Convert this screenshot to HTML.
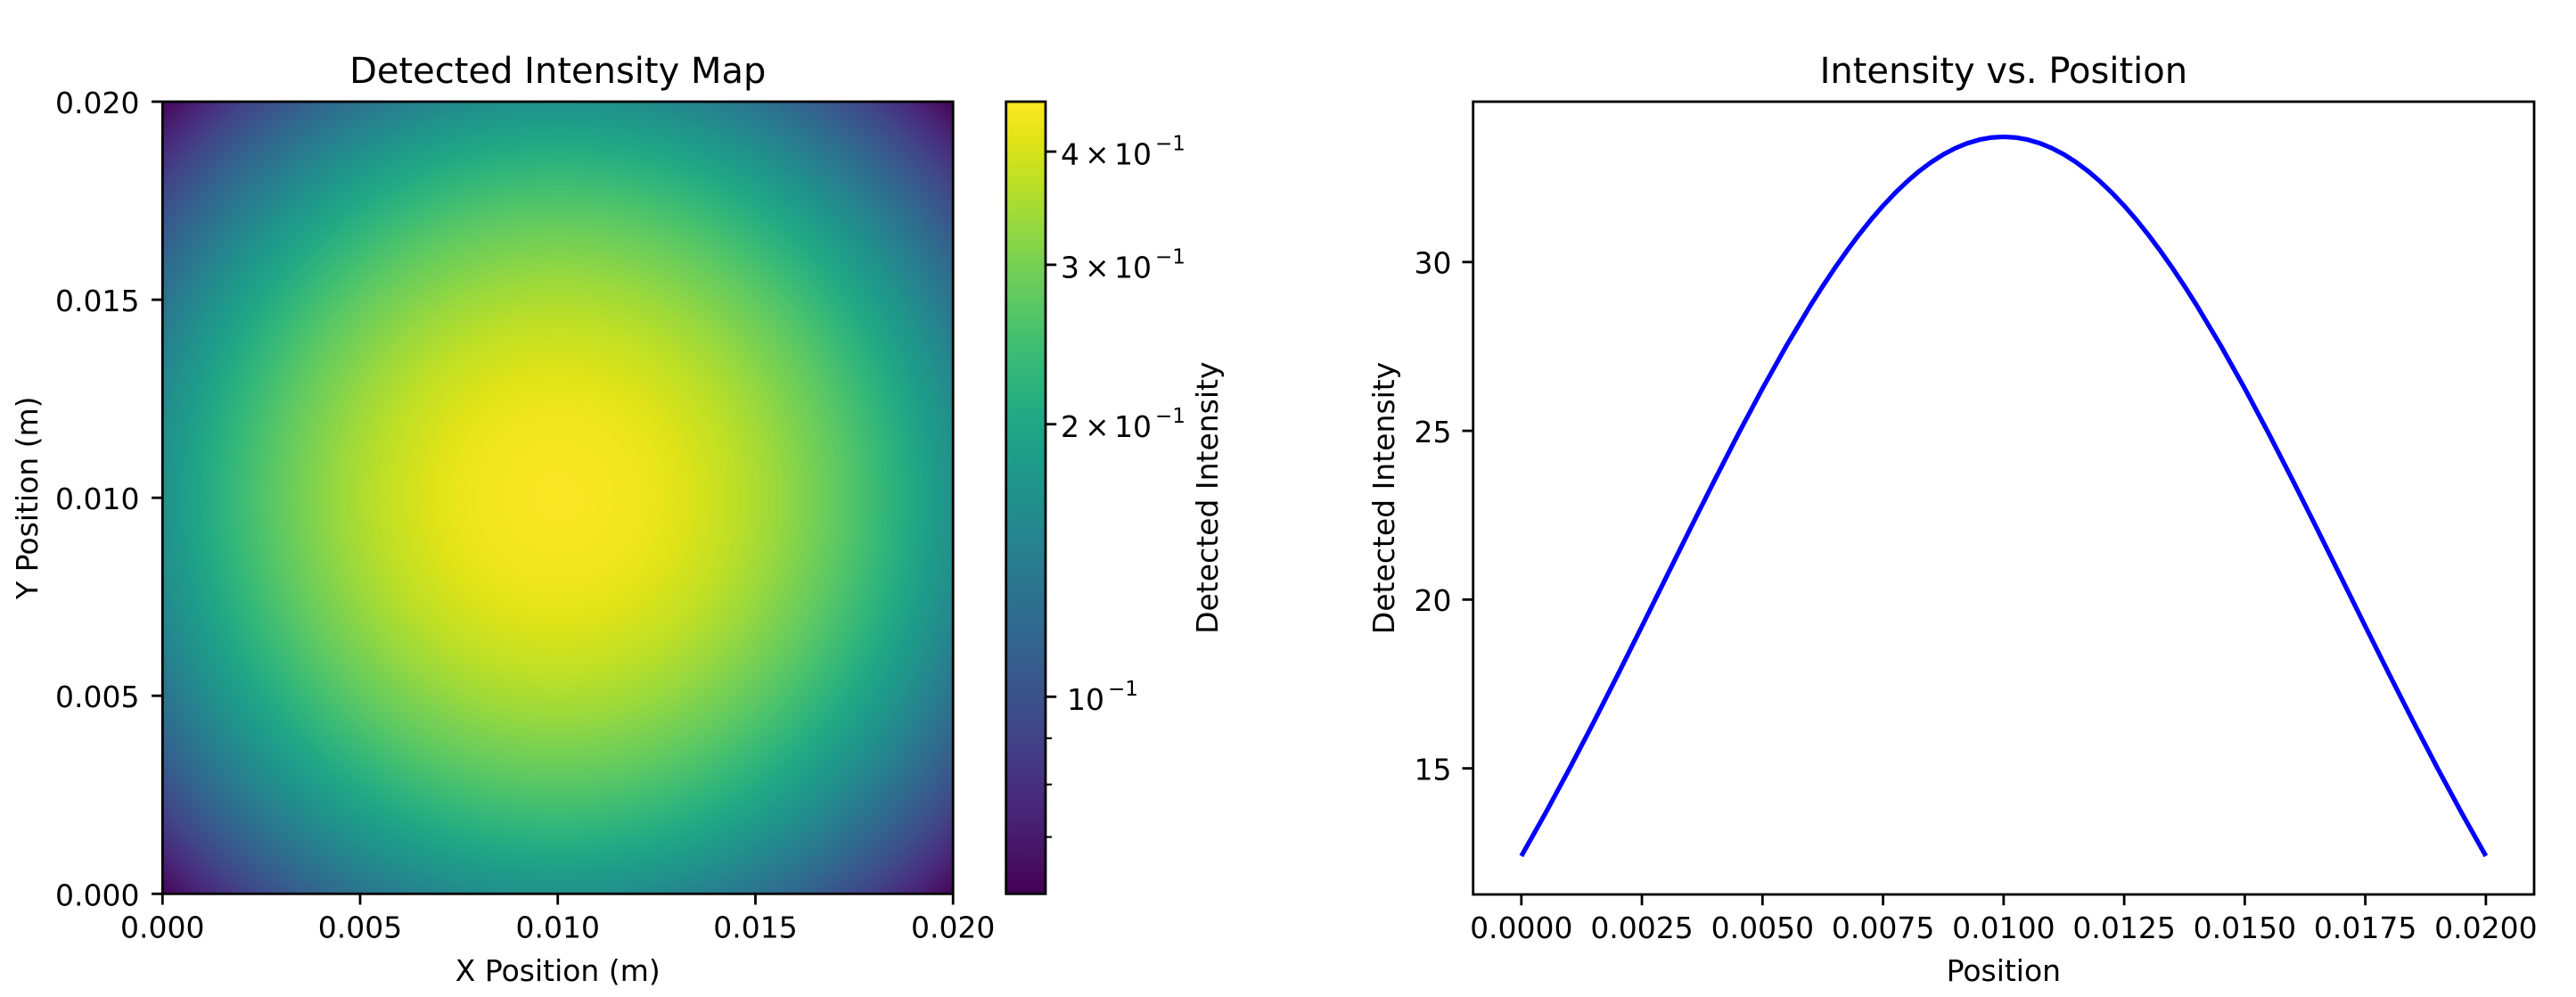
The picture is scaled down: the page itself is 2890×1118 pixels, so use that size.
<!DOCTYPE html>
<html>
<head>
<meta charset="utf-8">
<style>
  html, body { margin: 0; padding: 0; background: #ffffff; }
  svg { display: block; }
  text { font-family: "DejaVu Sans", "Liberation Sans", sans-serif; fill: #000; }
</style>
</head>
<body>
<svg width="2890" height="1118" viewBox="0 0 2890 1118" xmlns="http://www.w3.org/2000/svg">
  <defs>
    <radialGradient id="heat" gradientUnits="userSpaceOnUse" cx="625.75" cy="558.15" r="627.6">
      <stop offset="0" stop-color="#fde725"/>
      <stop offset="0.1587" stop-color="#eee51e"/>
      <stop offset="0.2244" stop-color="#dfe318"/>
      <stop offset="0.3173" stop-color="#bddf26"/>
      <stop offset="0.3886" stop-color="#9bd93c"/>
      <stop offset="0.4488" stop-color="#7ad151"/>
      <stop offset="0.5017" stop-color="#5ec962"/>
      <stop offset="0.5496" stop-color="#44bf70"/>
      <stop offset="0.5937" stop-color="#2fb47c"/>
      <stop offset="0.6346" stop-color="#22a884"/>
      <stop offset="0.6731" stop-color="#1e9c89"/>
      <stop offset="0.7096" stop-color="#21918c"/>
      <stop offset="0.7442" stop-color="#25848e"/>
      <stop offset="0.7773" stop-color="#2a788e"/>
      <stop offset="0.8090" stop-color="#2f6c8e"/>
      <stop offset="0.8395" stop-color="#355f8d"/>
      <stop offset="0.8690" stop-color="#3b528b"/>
      <stop offset="0.8975" stop-color="#414487"/>
      <stop offset="0.9251" stop-color="#463480"/>
      <stop offset="0.9520" stop-color="#482475"/>
      <stop offset="0.9780" stop-color="#471365"/>
      <stop offset="1" stop-color="#440456"/>
    </radialGradient>
    <linearGradient id="cbar" x1="0" y1="0" x2="0" y2="1">
      <stop offset="0" stop-color="#fde725"/>
      <stop offset="0.05" stop-color="#dfe318"/>
      <stop offset="0.10" stop-color="#bddf26"/>
      <stop offset="0.15" stop-color="#9bd93c"/>
      <stop offset="0.20" stop-color="#7ad151"/>
      <stop offset="0.25" stop-color="#5ec962"/>
      <stop offset="0.30" stop-color="#44bf70"/>
      <stop offset="0.35" stop-color="#2fb47c"/>
      <stop offset="0.40" stop-color="#22a884"/>
      <stop offset="0.45" stop-color="#1e9c89"/>
      <stop offset="0.50" stop-color="#21918c"/>
      <stop offset="0.55" stop-color="#25848e"/>
      <stop offset="0.60" stop-color="#2a788e"/>
      <stop offset="0.65" stop-color="#2f6c8e"/>
      <stop offset="0.70" stop-color="#355f8d"/>
      <stop offset="0.75" stop-color="#3b528b"/>
      <stop offset="0.80" stop-color="#414487"/>
      <stop offset="0.85" stop-color="#463480"/>
      <stop offset="0.90" stop-color="#482475"/>
      <stop offset="0.95" stop-color="#471365"/>
      <stop offset="1" stop-color="#440154"/>
    </linearGradient>
  </defs>

  <rect x="0" y="0" width="2890" height="1118" fill="#ffffff"/>

  <!-- ================= LEFT: heatmap ================= -->
  <rect x="182.3" y="114" width="886.9" height="888.3" fill="url(#heat)"/>
  <rect x="182.3" y="114" width="886.9" height="888.3" fill="none" stroke="#000" stroke-width="2.8"/>

  <g stroke="#000" stroke-width="2.8">
    <line x1="182.3" y1="1002.3" x2="182.3" y2="1014.5"/>
    <line x1="404.0" y1="1002.3" x2="404.0" y2="1014.5"/>
    <line x1="625.75" y1="1002.3" x2="625.75" y2="1014.5"/>
    <line x1="847.5" y1="1002.3" x2="847.5" y2="1014.5"/>
    <line x1="1069.2" y1="1002.3" x2="1069.2" y2="1014.5"/>
    <line x1="182.3" y1="1002.3" x2="170.1" y2="1002.3"/>
    <line x1="182.3" y1="780.2" x2="170.1" y2="780.2"/>
    <line x1="182.3" y1="558.2" x2="170.1" y2="558.2"/>
    <line x1="182.3" y1="336.1" x2="170.1" y2="336.1"/>
    <line x1="182.3" y1="114" x2="170.1" y2="114"/>
  </g>
  <g font-size="33" text-anchor="middle">
    <text x="182.3" y="1051.5">0.000</text>
    <text x="404.0" y="1051.5">0.005</text>
    <text x="625.75" y="1051.5">0.010</text>
    <text x="847.5" y="1051.5">0.015</text>
    <text x="1069.2" y="1051.5">0.020</text>
  </g>
  <g font-size="33" text-anchor="end">
    <text x="156.5" y="1015.3">0.000</text>
    <text x="156.5" y="793.2">0.005</text>
    <text x="156.5" y="571.2">0.010</text>
    <text x="156.5" y="349.1">0.015</text>
    <text x="156.5" y="127">0.020</text>
  </g>
  <text x="625.75" y="1100" font-size="33" text-anchor="middle">X Position (m)</text>
  <text transform="translate(42,558.2) rotate(-90)" font-size="33" text-anchor="middle">Y Position (m)</text>
  <text x="625.75" y="93" font-size="40" text-anchor="middle">Detected Intensity Map</text>

  <!-- colorbar -->
  <rect x="1128.7" y="114" width="44.3" height="888.3" fill="url(#cbar)"/>
  <rect x="1128.7" y="114" width="44.3" height="888.3" fill="none" stroke="#000" stroke-width="2.8"/>
  <g stroke="#000" stroke-width="2.8">
    <line x1="1173" y1="170.0" x2="1185.2" y2="170.0"/>
    <line x1="1173" y1="296.9" x2="1185.2" y2="296.9"/>
    <line x1="1173" y1="475.7" x2="1185.2" y2="475.7"/>
    <line x1="1173" y1="781.3" x2="1185.2" y2="781.3"/>
  </g>
  <g stroke="#000" stroke-width="2.1">
    <line x1="1173" y1="827.8" x2="1180" y2="827.8"/>
    <line x1="1173" y1="879.7" x2="1180" y2="879.7"/>
    <line x1="1173" y1="938.6" x2="1180" y2="938.6"/>
  </g>
  <g font-size="33">
    <text y="184.5"><tspan x="1190">4</tspan><tspan x="1217">×</tspan><tspan x="1250">10</tspan></text>
    <text x="1296" y="168.5" font-size="23">−1</text>
    <text y="311.4"><tspan x="1190">3</tspan><tspan x="1217">×</tspan><tspan x="1250">10</tspan></text>
    <text x="1296" y="295.4" font-size="23">−1</text>
    <text y="490.2"><tspan x="1190">2</tspan><tspan x="1217">×</tspan><tspan x="1250">10</tspan></text>
    <text x="1296" y="474.2" font-size="23">−1</text>
    <text x="1197" y="795.8">10</text>
    <text x="1243" y="779.8" font-size="23">−1</text>
  </g>
  <text transform="translate(1366,558.2) rotate(-90)" font-size="33" text-anchor="middle">Detected Intensity</text>

  <!-- ================= RIGHT: line plot ================= -->
  <polyline fill="none" stroke="#0000ff" stroke-width="5.2" stroke-linejoin="round" stroke-linecap="butt"
    points="1706.8,959.96 1733.85,911.89 1760.9,861.74 1787.96,809.84 1815.01,756.57 1842.06,702.35 1869.12,647.69 1896.17,593.10 1923.22,539.17 1950.27,486.48 1977.33,435.66 2004.38,387.32 2031.43,342.08 2044.96,320.81 2058.48,300.53 2072.01,281.32 2085.54,263.24 2099.06,246.36 2112.59,230.73 2126.11,216.41 2139.64,203.46 2153.17,191.91 2166.69,181.81 2180.22,173.21 2193.75,166.12 2207.27,160.58 2220.80,156.61 2234.32,154.23 2247.85,153.43 2261.38,154.23 2274.90,156.61 2288.43,160.58 2301.96,166.12 2315.48,173.21 2329.01,181.81 2342.53,191.91 2356.06,203.46 2369.59,216.41 2383.11,230.73 2396.64,246.36 2410.17,263.24 2423.69,281.32 2437.22,300.53 2450.74,320.81 2464.27,342.08 2491.32,387.32 2518.38,435.66 2545.43,486.48 2572.48,539.17 2599.53,593.10 2626.59,647.69 2653.64,702.35 2680.69,756.57 2707.74,809.84 2734.80,861.74 2761.85,911.89 2788.90,959.96"/>
  <rect x="1652.7" y="114" width="1190.3" height="889" fill="none" stroke="#000" stroke-width="2.8"/>

  <g stroke="#000" stroke-width="2.8">
    <line x1="1706.8" y1="1003" x2="1706.8" y2="1015.2"/>
    <line x1="1842.06" y1="1003" x2="1842.06" y2="1015.2"/>
    <line x1="1977.33" y1="1003" x2="1977.33" y2="1015.2"/>
    <line x1="2112.59" y1="1003" x2="2112.59" y2="1015.2"/>
    <line x1="2247.85" y1="1003" x2="2247.85" y2="1015.2"/>
    <line x1="2383.11" y1="1003" x2="2383.11" y2="1015.2"/>
    <line x1="2518.38" y1="1003" x2="2518.38" y2="1015.2"/>
    <line x1="2653.64" y1="1003" x2="2653.64" y2="1015.2"/>
    <line x1="2788.9" y1="1003" x2="2788.9" y2="1015.2"/>
    <line x1="1652.7" y1="861.6" x2="1640.5" y2="861.6"/>
    <line x1="1652.7" y1="672.35" x2="1640.5" y2="672.35"/>
    <line x1="1652.7" y1="483.1" x2="1640.5" y2="483.1"/>
    <line x1="1652.7" y1="293.85" x2="1640.5" y2="293.85"/>
  </g>
  <g font-size="33" text-anchor="middle">
    <text x="1706.8" y="1052">0.0000</text>
    <text x="1842.06" y="1052">0.0025</text>
    <text x="1977.33" y="1052">0.0050</text>
    <text x="2112.59" y="1052">0.0075</text>
    <text x="2247.85" y="1052">0.0100</text>
    <text x="2383.11" y="1052">0.0125</text>
    <text x="2518.38" y="1052">0.0150</text>
    <text x="2653.64" y="1052">0.0175</text>
    <text x="2788.9" y="1052">0.0200</text>
  </g>
  <g font-size="33" text-anchor="end">
    <text x="1628.5" y="874.3">15</text>
    <text x="1628.5" y="685.05">20</text>
    <text x="1628.5" y="495.8">25</text>
    <text x="1628.5" y="306.55">30</text>
  </g>
  <text x="2247.85" y="1100" font-size="33" text-anchor="middle">Position</text>
  <text transform="translate(1564,558.5) rotate(-90)" font-size="33" text-anchor="middle">Detected Intensity</text>
  <text x="2247.85" y="93" font-size="40" text-anchor="middle">Intensity vs. Position</text>
</svg>
</body>
</html>
